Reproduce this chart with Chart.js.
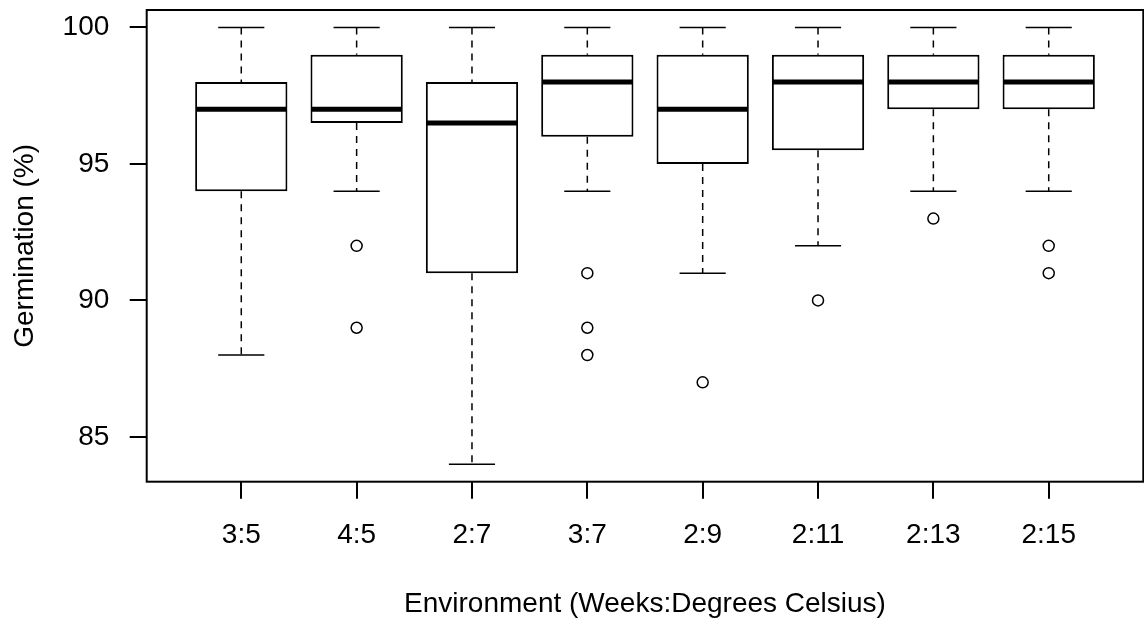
<!DOCTYPE html>
<html>
<head>
<meta charset="utf-8">
<script src="https://cdn.jsdelivr.net/npm/chart.js@4.4.1/dist/chart.umd.min.js"></script>
<style>
  html, body { margin: 0; padding: 0; background: #fff; }
  #wrap { width: 1144px; height: 634px; position: relative; }
</style>
</head>
<body>
<div id="wrap"><canvas id="germination-chart"></canvas></div>
<script>
let categories = ["3:5", "4:5", "2:7", "3:7", "2:9", "2:11", "2:13", "2:15"];
let whiskerHigh = [100, 100, 100, 100, 100, 100, 100, 100];
let upperQuartile = [98, 99, 98, 99, 99, 99, 99, 99];
let medians = [97, 97, 96.5, 98, 97, 98, 98, 98];
let lowerQuartile = [94, 96.5, 91, 96, 95, 95.5, 97, 97];
let whiskerLow = [88, 94, 84, 94, 91, 92, 94, 94];
let outliers = [[], [92, 89], [], [91, 89, 88], [87], [90], [93], [92, 91]];
let yTicks = [85, 90, 95, 100];

let fontFamily = "'Liberation Sans', Arial, sans-serif";

let boxData = categories.map((c, i) => ({x: i + 1, y: [lowerQuartile[i], upperQuartile[i]]}));
let outlierData = [];
outliers.forEach((vals, i) => {
    vals.forEach(v => outlierData.push({x: i + 1, y: v}));
});

// whiskers, staples, medians and the frame round the plot
let boxplotPlugin = {
    id: "boxplotExtras",
    beforeDatasetsDraw(chart) {
        let ctx = chart.ctx;
        let xs = chart.scales.x;
        let ys = chart.scales.y;
        ctx.save();
        ctx.strokeStyle = "#000";
        ctx.lineWidth = 1.5;
        for (let i = 0; i < categories.length; i++) {
            let cx = xs.getPixelForValue(i + 1);
            let l = xs.getPixelForValue(i + 1 - 0.2);
            let r = xs.getPixelForValue(i + 1 + 0.2);
            ctx.setLineDash([7, 6]);
            ctx.beginPath();
            ctx.moveTo(cx, ys.getPixelForValue(whiskerHigh[i]));
            ctx.lineTo(cx, ys.getPixelForValue(upperQuartile[i]));
            ctx.moveTo(cx, ys.getPixelForValue(lowerQuartile[i]));
            ctx.lineTo(cx, ys.getPixelForValue(whiskerLow[i]));
            ctx.stroke();
            ctx.setLineDash([]);
            ctx.beginPath();
            ctx.moveTo(l, ys.getPixelForValue(whiskerHigh[i]));
            ctx.lineTo(r, ys.getPixelForValue(whiskerHigh[i]));
            ctx.moveTo(l, ys.getPixelForValue(whiskerLow[i]));
            ctx.lineTo(r, ys.getPixelForValue(whiskerLow[i]));
            ctx.stroke();
        }
        ctx.restore();
    },
    afterDatasetsDraw(chart) {
        let ctx = chart.ctx;
        let xs = chart.scales.x;
        let ys = chart.scales.y;
        ctx.save();
        ctx.strokeStyle = "#000";
        ctx.lineWidth = 5;
        for (let i = 0; i < categories.length; i++) {
            let y = ys.getPixelForValue(medians[i]);
            ctx.beginPath();
            ctx.moveTo(xs.getPixelForValue(i + 1 - 0.4) + 1, y);
            ctx.lineTo(xs.getPixelForValue(i + 1 + 0.4) - 1, y);
            ctx.stroke();
        }
        let a = chart.chartArea;
        ctx.lineWidth = 2;
        ctx.strokeRect(a.left, a.top, a.right - a.left, a.bottom - a.top);
        ctx.restore();
    }
};

let chartCfg = {
    type: "bar",
    data: {
        datasets: [{
            label: "Box",
            data: boxData,
            backgroundColor: "#fff",
            borderColor: "#000",
            borderWidth: 2,
            borderSkipped: false,
            categoryPercentage: 0.8,
            barPercentage: 1
        },
        {
            type: "scatter",
            label: "Outliers",
            data: outlierData,
            pointStyle: "circle",
            pointRadius: 5.5,
            pointHoverRadius: 5.5,
            borderWidth: 1.5,
            borderColor: "#000",
            backgroundColor: "rgba(0,0,0,0)"
        }]
    },
    options: {
        responsive: true,
        maintainAspectRatio: false,
        animation: false,
        layout: {
            autoPadding: false,
            padding: {top: 10, right: 0.7, left: 0, bottom: 0}
        },
        plugins: {
            legend: {display: false},
            tooltip: {enabled: false}
        },
        scales: {
            x: {
                type: "linear",
                min: 0.18,
                max: 8.82,
                offset: false,
                afterBuildTicks: (axis) => {
                    axis.ticks = categories.map((c, i) => ({value: i + 1}));
                },
                afterFit: (axis) => {
                    axis.height = 152.3;
                    axis.paddingLeft = 0;
                    axis.paddingRight = 0;
                },
                grid: {
                    offset: false,
                    drawOnChartArea: false,
                    drawTicks: true,
                    tickLength: 17,
                    color: "#000",
                    lineWidth: 2
                },
                border: {display: false},
                ticks: {
                    callback: (value) => categories[value - 1],
                    color: "#000",
                    padding: 19.7,
                    maxRotation: 0,
                    autoSkip: false,
                    font: {family: fontFamily, size: 28}
                },
                title: {
                    display: true,
                    text: "Environment (Weeks:Degrees Celsius)",
                    color: "#000",
                    padding: {top: 0, bottom: 12.5},
                    font: {family: fontFamily, size: 28}
                }
            },
            y: {
                min: 83.36,
                max: 100.64,
                beginAtZero: false,
                afterBuildTicks: (axis) => {
                    axis.ticks = yTicks.map(v => ({value: v}));
                },
                afterFit: (axis) => {
                    axis.width = 146.7;
                    axis.paddingTop = 0;
                    axis.paddingBottom = 0;
                },
                grid: {
                    drawOnChartArea: false,
                    drawTicks: true,
                    tickLength: 17,
                    color: "#000",
                    lineWidth: 2
                },
                border: {display: false},
                ticks: {
                    color: "#000",
                    padding: 20.4,
                    font: {family: fontFamily, size: 28}
                },
                title: {
                    display: true,
                    text: "Germination (%)",
                    color: "#000",
                    padding: {top: 8.8, bottom: 0},
                    font: {family: fontFamily, size: 28}
                }
            }
        }
    },
    plugins: [boxplotPlugin]
};

let germinationChart = new Chart(document.getElementById("germination-chart"), chartCfg);
</script>
</body>
</html>
